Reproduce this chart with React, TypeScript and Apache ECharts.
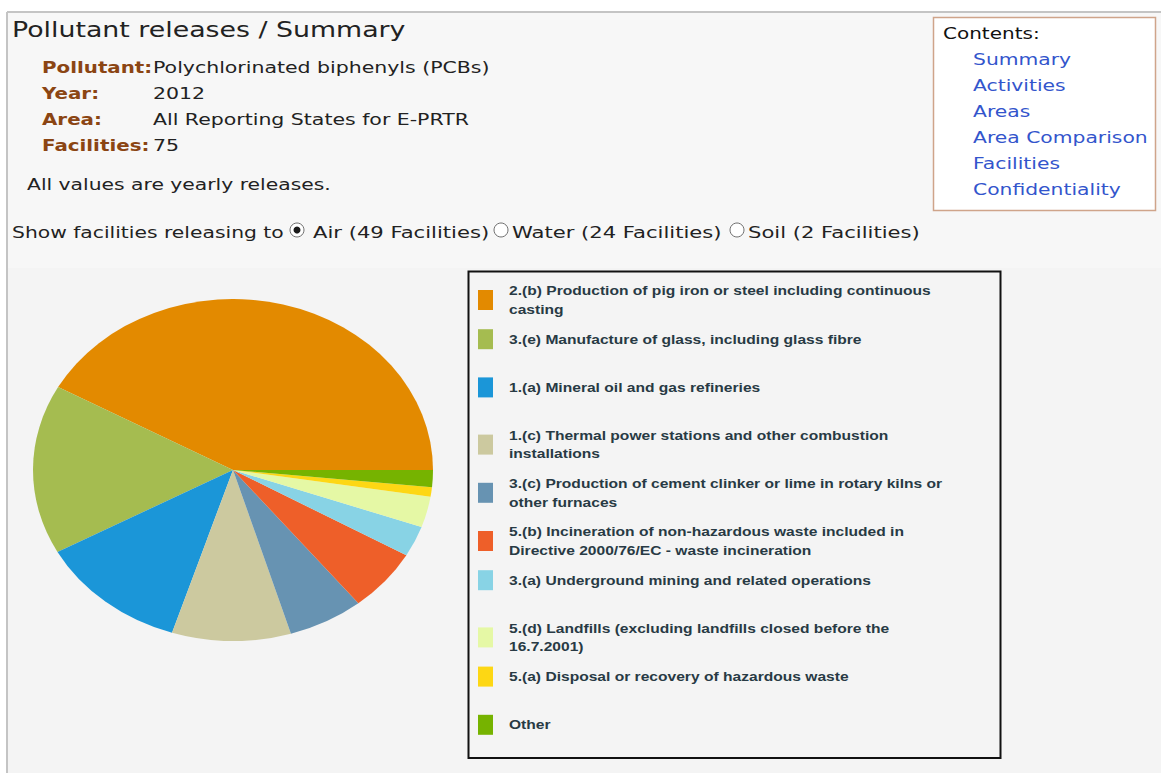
import React, { useEffect, useRef } from "react";
import * as echarts from "echarts";

// ---------- data ----------
const categories = [
  "2.(b) Production of pig iron or steel including continuous casting",
  "3.(e) Manufacture of glass, including glass fibre",
  "1.(a) Mineral oil and gas refineries",
  "1.(c) Thermal power stations and other combustion installations",
  "3.(c) Production of cement clinker or lime in rotary kilns or other furnaces",
  "5.(b) Incineration of non-hazardous waste included in Directive 2000/76/EC - waste incineration",
  "3.(a) Underground mining and related operations",
  "5.(d) Landfills (excluding landfills closed before the 16.7.2001)",
  "5.(a) Disposal or recovery of hazardous waste",
  "Other",
];
const shares = [41.9, 16.0, 12.1, 9.6, 6.1, 5.9, 2.9, 2.9, 0.9, 1.6];
const sliceColors = [
  "#E38A00", "#A5BC50", "#1B96D8", "#CCC99F", "#6793B2",
  "#EE5F29", "#88D3E5", "#E5F8A5", "#FDD714", "#76B300",
];
const infoLabels = ["Pollutant:", "Year:", "Area:", "Facilities:"];
const infoValues = ["Polychlorinated biphenyls (PCBs)", "2012", "All Reporting States for E-PRTR", "75"];
const contentsLinks = ["Summary", "Activities", "Areas", "Area Comparison", "Facilities", "Confidentiality"];
const mediums = ["Air (49 Facilities)", "Water (24 Facilities)", "Soil (2 Facilities)"];
const titleText = "Pollutant releases / Summary";
const noteText = "All values are yearly releases.";
const showText = "Show facilities releasing to";

// ---------- helpers ----------
const SANS = "'DejaVu Sans', Verdana, sans-serif";
const ARIAL = "'Liberation Sans', Arial, sans-serif";

function txt(x: number, y: number, text: string, o: any = {}) {
  return {
    type: "text",
    x,
    y,
    scaleX: o.scaleX ?? 1.27,
    silent: true,
    z: 10,
    style: {
      text,
      fontFamily: o.fontFamily ?? SANS,
      fontSize: o.fontSize ?? 16,
      fontWeight: o.fontWeight ?? "normal",
      fill: o.fill ?? "#222",
      align: "left",
      verticalAlign: "middle",
    },
  };
}

function wrapText(text: string, font: string, maxW: number): string[] {
  const c = document.createElement("canvas").getContext("2d")!;
  c.font = font;
  const words = text.split(" ");
  const lines: string[] = [];
  let cur = "";
  for (const w of words) {
    const t = cur ? cur + " " + w : w;
    if (c.measureText(t).width > maxW && cur) {
      lines.push(cur);
      cur = w;
    } else cur = t;
  }
  if (cur) lines.push(cur);
  return lines;
}

export default function App() {
  const mainRef = useRef<HTMLDivElement>(null);
  const pieRef = useRef<HTMLDivElement>(null);

  useEffect(() => {
    const main = echarts.init(mainRef.current!, null, { renderer: "svg" });
    const pie = echarts.init(pieRef.current!, null, { renderer: "svg" });

    const els: any[] = [];
    // backgrounds
    els.push({ type: "rect", silent: true, z: 0, shape: { x: 0, y: 0, width: 1161, height: 773 }, style: { fill: "#ffffff" } });
    els.push({ type: "rect", silent: true, z: 1, shape: { x: 8, y: 12, width: 1153, height: 256 }, style: { fill: "#f7f7f7" } });
    els.push({ type: "rect", silent: true, z: 1, shape: { x: 8, y: 268, width: 1153, height: 505 }, style: { fill: "#f4f4f4" } });
    els.push({ type: "line", silent: true, z: 2, shape: { x1: 7, y1: 12, x2: 1161, y2: 12 }, style: { stroke: "#c4c4c4", lineWidth: 2 } });
    els.push({ type: "line", silent: true, z: 2, shape: { x1: 7, y1: 12, x2: 7, y2: 773 }, style: { stroke: "#c4c4c4", lineWidth: 2 } });

    // title
    els.push(txt(12, 30, titleText, { fontSize: 21, scaleX: 1.276, fill: "#222" }));

    // info rows
    infoLabels.forEach((l, i) => {
      els.push(txt(42, 67 + i * 26, l, { fontWeight: "bold", fill: "#8b4513", scaleX: 1.24 }));
      els.push(txt(153, 67 + i * 26, infoValues[i], { scaleX: 1.28 }));
    });
    els.push(txt(27, 184, noteText, {}));

    // radio row
    els.push(txt(12, 232, showText, {}));
    const radioX = [297, 501, 737];
    const medX = [313, 512, 748];
    mediums.forEach((m, i) => {
      els.push({ type: "circle", silent: true, z: 10, shape: { cx: radioX[i], cy: 230, r: 7 }, style: { fill: "#ffffff", stroke: "#6f6f6f", lineWidth: 1 } });
      if (i === 0) els.push({ type: "circle", silent: true, z: 11, shape: { cx: radioX[i], cy: 230, r: 3.5 }, style: { fill: "#1a1a1a" } });
      els.push(txt(medX[i], 232, m, { scaleX: 1.32 }));
    });

    // contents box
    els.push({ type: "rect", silent: true, z: 5, shape: { x: 933.5, y: 17.5, width: 222, height: 193 }, style: { fill: "#ffffff", stroke: "#cfa48a", lineWidth: 1.5 } });
    els.push(txt(943, 33, "Contents:", { fill: "#111", scaleX: 1.25 }));
    contentsLinks.forEach((c, i) => {
      els.push(txt(973, 59 + i * 26, c, { fill: "#3355cc", scaleX: 1.27 }));
    });

    // legend
    els.push({ type: "rect", silent: true, z: 5, shape: { x: 468.5, y: 271.5, width: 532, height: 486.5 }, style: { fill: "none", stroke: "#111", lineWidth: 2 } });
    const legScale = 1.3;
    const legFont = "bold 12px 'Liberation Sans', Arial, sans-serif";
    categories.forEach((name, i) => {
      const lines = wrapText(name, legFont, 445 / legScale);
      const y0 = 291 + i * 48.2;
      const sqC = y0 + (lines.length - 1) * 9;
      els.push({ type: "rect", silent: true, z: 10, shape: { x: 478, y: sqC - 10, width: 15, height: 20 }, style: { fill: sliceColors[i] } });
      lines.forEach((ln, k) => {
        els.push(txt(509, y0 + k * 18.5, ln, { fontFamily: ARIAL, fontSize: 12, fontWeight: "bold", fill: "#283a44", scaleX: legScale }));
      });
    });

    main.setOption({
      animation: false,
      backgroundColor: "#ffffff",
      graphic: { elements: els },
    });

    pie.setOption({
      animation: false,
      backgroundColor: "transparent",
      color: sliceColors,
      series: [
        {
          type: "pie",
          radius: 200,
          center: ["50%", "50%"],
          startAngle: 0,
          clockwise: false,
          silent: true,
          label: { show: false },
          labelLine: { show: false },
          itemStyle: { borderWidth: 0 },
          emphasis: { disabled: true },
          data: categories.map((n, i) => ({ name: n, value: shares[i] })),
        },
      ],
    });

    return () => {
      main.dispose();
      pie.dispose();
    };
  }, []);

  return (
    <>
      <div ref={mainRef} style={{ position: "fixed", left: 0, top: 0, width: 1161, height: 773 }} />
      <div
        ref={pieRef}
        style={{
          position: "fixed",
          left: 33,
          top: 270,
          width: 400,
          height: 400,
          transform: "scaleY(0.855)",
          transformOrigin: "50% 50%",
        }}
      />
    </>
  );
}
